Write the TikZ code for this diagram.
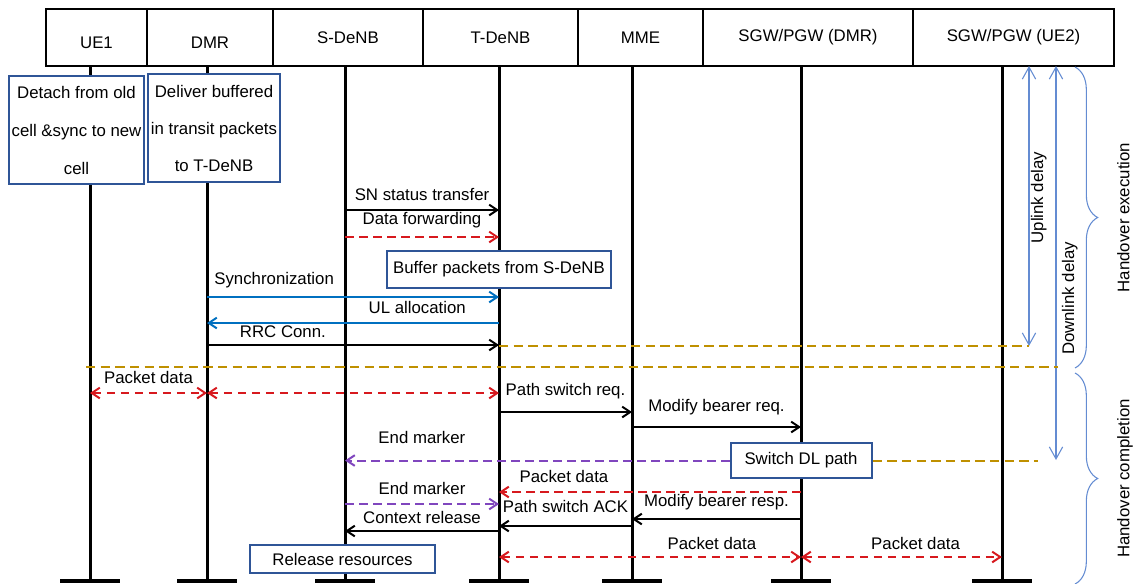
\documentclass[tikz,border=0pt]{standalone}
\usepackage{fontspec}
\setmainfont{Liberation Sans}
\usetikzlibrary{arrows.meta,positioning,calc,decorations.pathreplacing}
\definecolor{boxblue}{RGB}{47,85,151}
\definecolor{msgred}{RGB}{215,25,30}
\definecolor{msgblue}{RGB}{0,112,192}
\definecolor{msgpurple}{RGB}{128,70,190}
\definecolor{markgold}{RGB}{191,144,0}
\definecolor{delayblue}{RGB}{100,140,210}

\begin{document}
\begin{tikzpicture}[x=0.75pt, y=-0.75pt, >={Straight Barb[length=6pt,width=8pt]}, font={\fontsize{12.6}{14}\selectfont}]
	\tikzstyle{cell}=[draw, line width=1.5pt, outer sep=0pt, inner sep=0pt, minimum height=42.75pt, anchor=north west]
	\tikzstyle{life}=[line width=2.25pt]
	\tikzstyle{bar}=[line width=3pt]
	\tikzstyle{note}=[draw=boxblue, line width=1.5pt, fill=white, align=center, inner sep=2pt]
	\tikzstyle{msg}=[line width=1.5pt, black]
	\tikzstyle{bluemsg}=[line width=1.5pt, msgblue]
	\tikzstyle{reddash}=[line width=1.5pt, msgred, dash pattern=on 6.5pt off 4pt]
	\tikzstyle{purpledash}=[line width=1.5pt, msgpurple, dash pattern=on 6.5pt off 4pt]
	\tikzstyle{golddash}=[line width=1.5pt, markgold, dash pattern=on 7pt off 4pt]
	\tikzstyle{delay}=[line width=0.8pt, delayblue, >={Straight Barb[length=9pt,width=10pt]}]
	\tikzstyle{hobrace}=[line width=0.8pt, delayblue, decorate, decoration={brace, amplitude=17pt}]
	\tikzstyle{lbl}=[above=5pt, inner sep=1pt, text=black]
	\useasboundingbox (0,0) rectangle (1135,583);

	\node[cell, minimum width=75.75pt, label={[yshift=-4pt]center:UE1}] (hue1) at (46,9) {};
	\node[cell, minimum width=94.5pt, right=0pt of hue1, label={[yshift=-4pt]center:DMR}] (hdmr) {};
	\node[cell, minimum width=112.5pt, right=0pt of hdmr] (hsdenb) {S-DeNB};
	\node[cell, minimum width=116.25pt, right=0pt of hsdenb] (htdenb) {T-DeNB};
	\node[cell, minimum width=93.75pt, right=0pt of htdenb] (hmme) {MME};
	\node[cell, minimum width=157.5pt, right=0pt of hmme] (hsgw1) {SGW/PGW (DMR)};
	\node[cell, minimum width=150.75pt, right=0pt of hsgw1] (hsgw2) {SGW/PGW (UE2)};

	\foreach \n/\x in {ue1/90, dmr/207, sdenb/345, tdenb/499, mme/632, sgw1/801, sgw2/1002}{
		\coordinate (\n) at (\x,66);
		\coordinate (\n-end) at (\x,581);
		\draw[life] (\n) -- (\n-end);
		\draw[bar] ([xshift=-22.5pt]\n-end) -- ([xshift=22.5pt]\n-end);
	}

	\node[note, minimum width=101.25pt, minimum height=81pt, inner xsep=0pt, font={\fontsize{12.6}{28.5}\selectfont}] (detach) at (76.5,130) {Detach from old\\cell \&sync to new\\cell};
	\node[note, minimum width=99pt, minimum height=81pt, inner xsep=0pt, font={\fontsize{12.6}{27.75}\selectfont}] (deliver) at (214,128) {Deliver buffered\\in transit packets\\to T-DeNB};

	\draw[msg,->] (sdenb |- 0,210) -- node[lbl]{SN status transfer} (tdenb |- 0,210);
	\draw[reddash,->] (sdenb |- 0,237) -- node[lbl]{Data forwarding} (tdenb |- 0,237);
	\node[note, minimum width=168pt, minimum height=27.75pt] (buffer) at (tdenb |- 0,269.5) {Buffer packets from S-DeNB};
	\draw[bluemsg,->] (dmr |- 0,297) -- node[lbl,pos=0.23]{Synchronization} (tdenb |- 0,297);
	\draw[bluemsg,->] (tdenb |- 0,323) -- node[lbl,pos=0.28]{UL allocation} (dmr |- 0,323);
	\draw[msg,->] (dmr |- 0,345) -- node[lbl,pos=0.26,above=3.5pt]{RRC Conn.} (tdenb |- 0,345);

	\coordinate (ul-top) at (1029,66);
	\coordinate (ul-bot) at (1029,346);
	\coordinate (dl-top) at (1056,66);
	\coordinate (dl-bot) at (1056,460);
	\draw[delay,<->] (ul-top) -- node[pos=0.47, rotate=90, anchor=north, inner sep=1pt, text=black]{Uplink delay} (ul-bot);
	\draw[delay,<->] (dl-top) -- node[pos=0.59, rotate=90, anchor=north, inner sep=4pt, text=black]{Downlink delay} (dl-bot);
	\draw[golddash] (tdenb |- ul-bot) -- (ul-bot);
	\coordinate (sep) at (86,367);
	\draw[golddash] (sep) -- ([xshift=1.5pt]dl-top |- sep);

	\draw[reddash,<->] (ue1 |- 0,393) -- node[lbl]{Packet data} (dmr |- 0,393);
	\draw[reddash,<->] (dmr |- 0,393) -- (tdenb |- 0,393);
	\draw[msg,->] (tdenb |- 0,412) -- node[lbl,above=8pt]{Path switch req.} (mme |- 0,412);
	\draw[msg,->] (mme |- 0,427) -- node[lbl,above=7pt]{Modify bearer req.} (sgw1 |- 0,427);
	\node[note, minimum width=105.75pt, minimum height=26.25pt] (swdl) at (sgw1 |- 0,460.5) {Switch DL path};
	\draw[purpledash,->] (swdl.west) -- node[lbl,pos=0.8,above=11pt]{End marker} (sdenb |- swdl.west);
	\coordinate (gl-end) at (1038,460.5);
	\draw[golddash] (swdl.east) -- (gl-end);

	\draw[reddash,->] (sgw1 |- 0,492) -- node[lbl,pos=0.785]{Packet data} (tdenb |- 0,492);
	\draw[purpledash,->] (sdenb |- 0,504) -- node[lbl]{End marker} (tdenb |- 0,504);
	\draw[msg,->] (sgw1 |- 0,519) -- node[lbl]{Modify bearer resp.} (mme |- 0,519);
	\draw[msg,->] (mme |- 0,526) -- node[lbl,above=8pt]{Path switch ACK} (tdenb |- 0,526);
	\draw[msg,->] (tdenb |- 0,531) -- node[lbl,above=3.5pt]{Context release} (sdenb |- 0,531);
	\node[note, minimum width=138.75pt, minimum height=21pt] (release) at (342.5,559) {Release resources};
	\draw[reddash,<->] (tdenb |- 0,557) -- node[lbl,pos=0.705,above=3.5pt]{Packet data} (sgw1 |- 0,557);
	\draw[reddash,<->] (sgw1 |- 0,557) -- node[lbl,pos=0.57,above=3.5pt]{Packet data} (sgw2 |- 0,557);

	\draw[hobrace] (1075,67) -- (1075,368);
	\draw[hobrace] (1075,373) -- (1075,584);
	\node[rotate=90, anchor=north, inner sep=0pt] (hoexec) at (1117,217.5) {Handover execution};
	\node[rotate=90, anchor=north, inner sep=0pt] (hocompl) at (1117,478.5) {Handover completion};
\end{tikzpicture}
\end{document}
